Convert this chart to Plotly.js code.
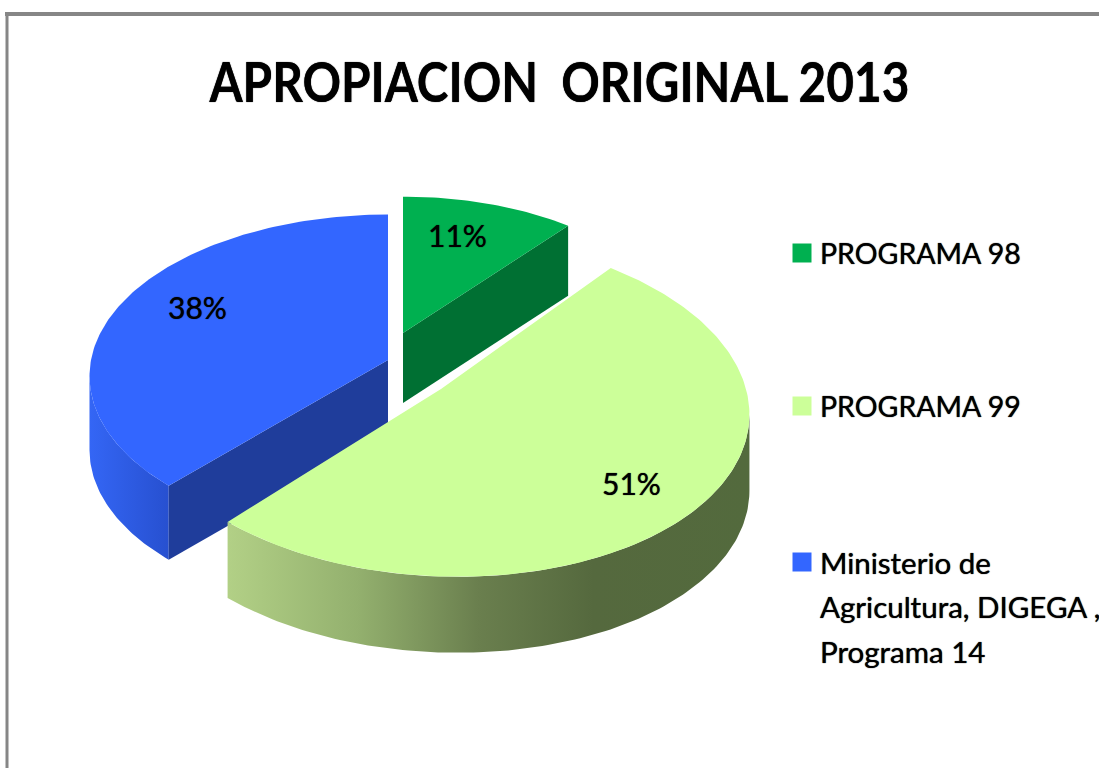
<!DOCTYPE html>
<html>
<head>
<meta charset="utf-8">
<script src="https://cdn.plot.ly/plotly-3.0.1.min.js"></script>
<style>html,body{margin:0;padding:0;background:#fff}#chart{width:1099px;height:768px}</style>
</head>
<body>
<div id="chart"></div>
<script>
var categories = ['PROGRAMA 98', 'PROGRAMA 99', 'Ministerio de<br>Agricultura, DIGEGA ,<br>Programa 14'];
var sliceValues = [11, 51, 38];
var titleText = 'APROPIACION  ORIGINAL 2013';
var topColors = ['#00B050', '#CCFF99', '#3366FF'];

// Projection of each exploded wedge of the tilted pie (paper pixels on hidden axes)
var wedges = [
  {ax: 403, ay: 333, rx: 279, ry: 150, sh: 0,  depth: 70},
  {ax: 441, ay: 389, rx: 305, ry: 169, sh: 15, depth: 76},
  {ax: 388, ay: 360, rx: 297, ry: 160, sh: 0,  depth: 74}
];
var persp = 0.1;
var labelPos = [[457, 235], [631, 483], [197, 307]];
var legendMarks = [[802, 253], [802, 406], [802, 562]];
var legendText = [[818, 253], [818, 406], [818, 562]];
var legendSizes = [28.5, 28.5, 29.5];
var legendLineGap = 44.5;

function pt(g, deg, dy) {
  var t = deg * Math.PI / 180, u = Math.sin(t), v = -Math.cos(t), s = 1 / (1 - persp * v);
  return [g.ax + (g.rx * u + g.sh * v) * s, g.ay + g.ry * v * s + (dy || 0)];
}
function arc(g, a, b, dy) {
  var out = [], n = Math.max(2, Math.ceil(Math.abs(b - a))), i;
  for (i = 0; i <= n; i++) out.push(pt(g, a + (b - a) * i / n, dy));
  return out;
}
// angle of the wedge's silhouette point: the outer wall is visible only up to here
function silhouette(g, a, b, sign) {
  var best = a, d;
  for (d = a; d <= b; d += 0.5) if (sign * pt(g, d)[0] > sign * pt(g, best)[0]) best = d;
  return best;
}
function poly(points, opts) {
  var tr = {
    type: 'scatter', mode: 'lines', hoverinfo: 'skip', showlegend: false,
    x: points.map(function (p) { return p[0]; }).concat(points[0][0]),
    y: points.map(function (p) { return p[1]; }).concat(points[0][1]),
    fill: 'toself', line: {width: 0}
  };
  if (opts.grad) tr.fillgradient = {type: 'horizontal', colorscale: opts.grad};
  else tr.fillcolor = opts.color;
  if (opts.name) tr.name = opts.name;
  return tr;
}
function topFace(g, a, b, color, name) {
  return poly([[g.ax, g.ay]].concat(arc(g, a, b)), {color: color, name: name});
}
function cutFace(g, deg, color) {
  var p = pt(g, deg);
  return poly([[g.ax, g.ay], p, [p[0], p[1] + g.depth], [g.ax, g.ay + g.depth]], {color: color});
}
function rim(g, a, b, grad) {
  return poly(arc(g, a, b).concat(arc(g, b, a, g.depth)), {grad: grad});
}

var total = sliceValues.reduce(function (s, v) { return s + v; }, 0);
var edges = [0];
sliceValues.forEach(function (v, i) { edges.push(edges[i] + v / total * 360); });

var traces = [
  rim(wedges[2], edges[2], silhouette(wedges[2], edges[2], edges[3], -1), [[0, '#3466F5'], [1, '#2750D0']]),
  cutFace(wedges[2], edges[2], '#1F3D9B'),
  topFace(wedges[2], edges[2], edges[3], topColors[2], categories[2].replace(/<br>/g, ' ')),
  cutFace(wedges[0], edges[1], '#007033'),
  topFace(wedges[0], edges[0], edges[1], topColors[0], categories[0]),
  rim(wedges[1], silhouette(wedges[1], edges[1], edges[2], 1), edges[2], [[0, '#B2D086'], [0.25, '#93B06E'], [0.48, '#6A7F4E'], [0.7, '#55693E'], [1, '#536A3D']]),
  topFace(wedges[1], edges[1], edges[2], topColors[1], categories[1]),
  {
    type: 'scatter', mode: 'markers', hoverinfo: 'skip', showlegend: false,
    x: legendMarks.map(function (p) { return p[0]; }),
    y: legendMarks.map(function (p) { return p[1]; }),
    marker: {symbol: 'square', size: 19, color: topColors, line: {width: 0}}
  }
];

var heavy = '0 0 1px #000';
var annotations = [];
sliceValues.forEach(function (v, i) {
  annotations.push({
    x: labelPos[i][0], y: labelPos[i][1], xref: 'x', yref: 'y', text: v + '%', showarrow: false,
    font: {family: 'Lato, sans-serif', size: 30, color: '#000', shadow: heavy}
  });
});
categories.forEach(function (c, i) {
  c.split('<br>').forEach(function (line, j) {
    annotations.push({
      x: legendText[i][0], y: legendText[i][1] + j * legendLineGap, xref: 'x', yref: 'y',
      text: line, showarrow: false, xanchor: 'left', yanchor: 'middle', align: 'left',
      font: {family: 'Lato, sans-serif', size: legendSizes[i], color: '#000', shadow: heavy}
    });
  });
});

var layout = {
  width: 1099, height: 768, margin: {l: 0, r: 0, t: 0, b: 0},
  paper_bgcolor: '#fff', plot_bgcolor: '#fff', showlegend: false,
  title: {
    text: titleText, x: 0.509, xanchor: 'center', y: 0.893, yanchor: 'middle',
    font: {family: 'Lato, sans-serif', size: 56, color: '#000', weight: 700, shadow: heavy}
  },
  xaxis: {range: [0, 1099], visible: false, fixedrange: true},
  yaxis: {range: [768, 0], visible: false, fixedrange: true},
  annotations: annotations,
  shapes: [
    {type: 'line', xref: 'x', yref: 'y', x0: 5, x1: 1099, y0: 14, y1: 14, line: {color: '#868686', width: 4}},
    {type: 'line', xref: 'x', yref: 'y', x0: 7, x1: 7, y0: 12, y1: 768, line: {color: '#868686', width: 3}}
  ]
};
Plotly.newPlot('chart', traces, layout, {displayModeBar: false, staticPlot: true}).then(function (gd) {
  // the reference title is set in a condensed face: narrow the glyphs to its measured width
  var t = gd.querySelector('.gtitle');
  if (t) {
    t.setAttribute('textLength', '700');
    t.setAttribute('lengthAdjust', 'spacingAndGlyphs');
  }
});
</script>
</body>
</html>
